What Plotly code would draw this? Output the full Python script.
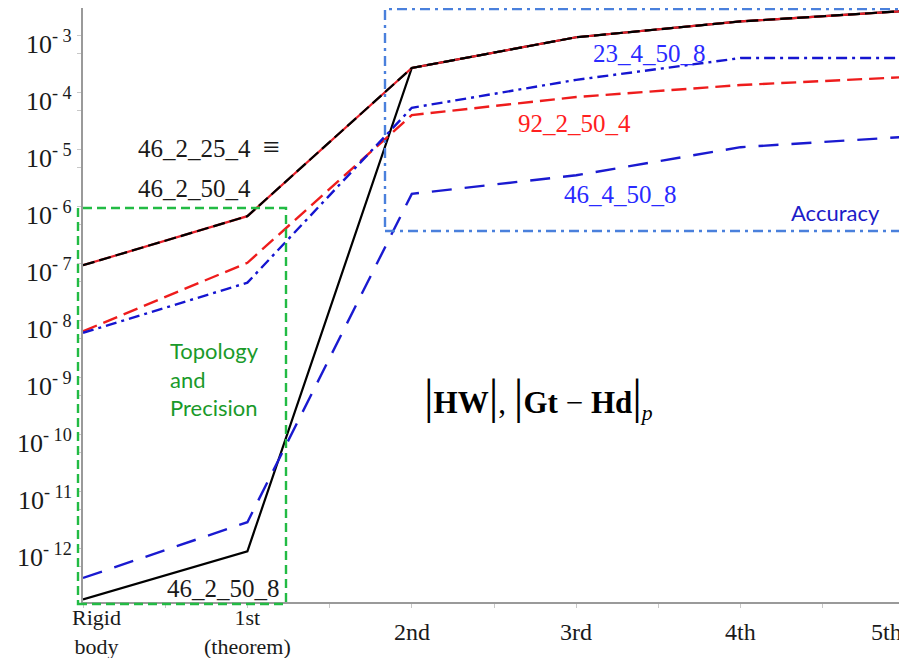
import numpy as np
import plotly.graph_objects as go

# ---- data -------------------------------------------------------------
stages = [0, 1, 2, 3, 4, 5]
stage_labels = ["Rigid<br>body", "1st<br>(theorem)", "2nd", "3rd", "4th", "5th"]

s_46_2_50_8 = [1.3e-13, 9.1e-13, 2.75e-4, 9.5e-4, 1.8e-3, 2.75e-3]
s_46_2_25_4 = [9.5e-8, 6.9e-7, 2.75e-4, 9.5e-4, 1.8e-3, 2.75e-3]
s_46_2_50_4 = [9.5e-8, 6.9e-7, 2.75e-4, 9.5e-4, 1.8e-3, 2.75e-3]
s_92_2_50_4 = [6.6e-9, 1.05e-7, 4.1e-5, 8.5e-5, 1.38e-4, 1.9e-4]
s_23_4_50_8 = [6.2e-9, 4.7e-8, 5.5e-5, 1.7e-4, 4.1e-4, 4.1e-4]
s_46_4_50_8 = [3.1e-13, 2.95e-12, 1.7e-6, 3.6e-6, 1.12e-5, 1.7e-5]

y_exps = list(range(-12, -2))
y_tickvals = [10.0 ** e for e in y_exps]
y_ticktext = ["10<sup>- %d</sup>" % (-e) for e in y_exps]
y_minor = [5 * 10.0 ** (e - 1) for e in y_exps]

# ---- layout geometry (page has an 8px body margin) --------------------
OFF = 8
PAGE_W, PAGE_H = 907, 658
W, H = PAGE_W - OFF, PAGE_H - OFF
PL, PR, PT, PB = 83, 905, 8, 602           # plot area in page pixels
L, R, T, B = PL - OFF, PAGE_W - PR, PT - OFF, PAGE_H - PB
Y_RANGE = [-12.93, -2.509]
X_RANGE = [0, 5]
pw, ph = PR - PL, PB - PT


def xd(px):  # page pixel -> x data
    return X_RANGE[0] + (px - PL) / pw * (X_RANGE[1] - X_RANGE[0])


def yd(py):  # page pixel -> log10 y
    return Y_RANGE[1] - (py - PT) / ph * (Y_RANGE[1] - Y_RANGE[0])


def xp(px):  # page pixel -> paper x
    return (px - PL) / pw


def yp(py):  # page pixel -> paper y
    return (PB - py) / ph


fig = go.Figure()

fig.add_trace(go.Scatter(x=stages, y=s_46_2_50_8, mode="lines",
                         line=dict(color="black", width=2.2)))
fig.add_trace(go.Scatter(x=stages, y=s_46_2_25_4, mode="lines",
                         line=dict(color="#e8202a", width=2.2)))
fig.add_trace(go.Scatter(x=stages, y=s_46_2_50_4, mode="lines",
                         line=dict(color="black", width=2.2, dash="12px,5px")))
fig.add_trace(go.Scatter(x=stages, y=s_92_2_50_4, mode="lines",
                         line=dict(color="#ee1c1c", width=2.4, dash="15px,7px")))
fig.add_trace(go.Scatter(x=stages, y=s_23_4_50_8, mode="lines",
                         line=dict(color="#1515d0", width=2.4, dash="11px,5px,3px,5px")))
fig.add_trace(go.Scatter(x=stages, y=s_46_4_50_8, mode="lines",
                         line=dict(color="#1a1ad0", width=2.4, dash="20px,13px")))

shapes = [
    dict(type="rect", xref="paper", yref="paper",
         x0=xp(78), x1=xp(286), y0=yp(604), y1=yp(208),
         line=dict(color="#22bb44", width=2.4, dash="9px,5px")),
    dict(type="rect", xref="paper", yref="paper",
         x0=xp(385), x1=xp(906), y0=yp(231), y1=yp(9),
         line=dict(color="#4a80dc", width=2.4, dash="10px,5px,3px,5px")),
]

serif = "Liberation Serif, Times New Roman, DejaVu Serif, serif"
sans = "Lato, Open Sans, sans-serif"
ann = []


def add_text(text, px, py, color, size, family, xanchor="left", align="left"):
    ann.append(dict(text=text, x=xd(px), y=yd(py), xref="x", yref="y",
                    xanchor=xanchor, yanchor="middle", align=align,
                    showarrow=False, font=dict(color=color, size=size, family=family)))


add_text('46_2_25_4 &nbsp;<span style="font-size:30px">≡</span>', 136, 146,
         "#1a1a1a", 25, serif)
add_text("46_2_50_4", 136, 188, "#1a1a1a", 25, serif)
add_text("23_4_50_8", 591, 53, "#2a2aff", 25, serif)
add_text("92_2_50_4", 516, 123, "#ff2020", 25, serif)
add_text("46_4_50_8", 562, 194, "#2a2aff", 25, serif)
add_text("46_2_50_8", 165, 588, "#1a1a1a", 25, serif)
add_text("Accuracy", 789, 212, "#1c1cc8", 22, sans)
add_text("Topology<br>and<br>Precision", 168, 379, "#1a9a2a", 22, sans)

bar = '<span style="font-size:48px;font-weight:normal">|</span>'
formula = (bar + "<b>HW</b>" + bar + ", " + bar + "<b>Gt</b> − <b>Hd</b>" + bar
           + "<sub><i>p</i></sub>")
add_text(formula, 422, 397, "black", 31, serif)

# y tick labels (set slightly below their ticks, as in the reference)
for v, t in zip(y_tickvals, y_ticktext):
    ann.append(dict(text=t, x=0, y=np.log10(v), xref="paper", yref="y",
                    xanchor="right", yanchor="middle", xshift=-9, yshift=-7,
                    showarrow=False, font=dict(family=serif, size=26, color="#1a1a1a")))

# x tick labels, all centred on the same row as in the reference
label_dx = {0: 13, 5: -19}
for xv, t in zip(stages, stage_labels):
    two = "<br>" in t
    ann.append(dict(text=t, x=xv, y=0, xref="x", yref="paper",
                    xanchor="center", yanchor="middle", align="center",
                    xshift=label_dx.get(xv, 0), yshift=-30,
                    showarrow=False,
                    font=dict(family=serif, size=22 if two else 24, color="#1a1a1a")))

fig.update_layout(
    width=W, height=H,
    margin=dict(l=L, r=R, t=T, b=B, autoexpand=False),
    paper_bgcolor="white", plot_bgcolor="white",
    showlegend=False,
    shapes=shapes, annotations=ann,
    xaxis=dict(range=X_RANGE, tickmode="array", tickvals=stages, showticklabels=False,
               automargin=False,
               showgrid=False, zeroline=False, showline=True, linecolor="#9a9a9a",
               linewidth=2, ticks="outside", ticklen=4, tickcolor="#c8c8c8",
               minor=dict(tickvals=[0.5, 1.5, 2.5, 3.5, 4.5], ticks="outside",
                          ticklen=4, tickcolor="#c8c8c8")),
    yaxis=dict(type="log", range=Y_RANGE, tickmode="array", tickvals=y_tickvals,
               automargin=False, showticklabels=False,
               showgrid=False, zeroline=False, showline=True,
               linecolor="#9a9a9a", linewidth=2, ticks="outside", ticklen=4,
               tickcolor="#c8c8c8",
               minor=dict(tickvals=y_minor, ticks="outside", ticklen=4,
                          tickcolor="#c8c8c8")),
)

fig.write_html("out.html")
